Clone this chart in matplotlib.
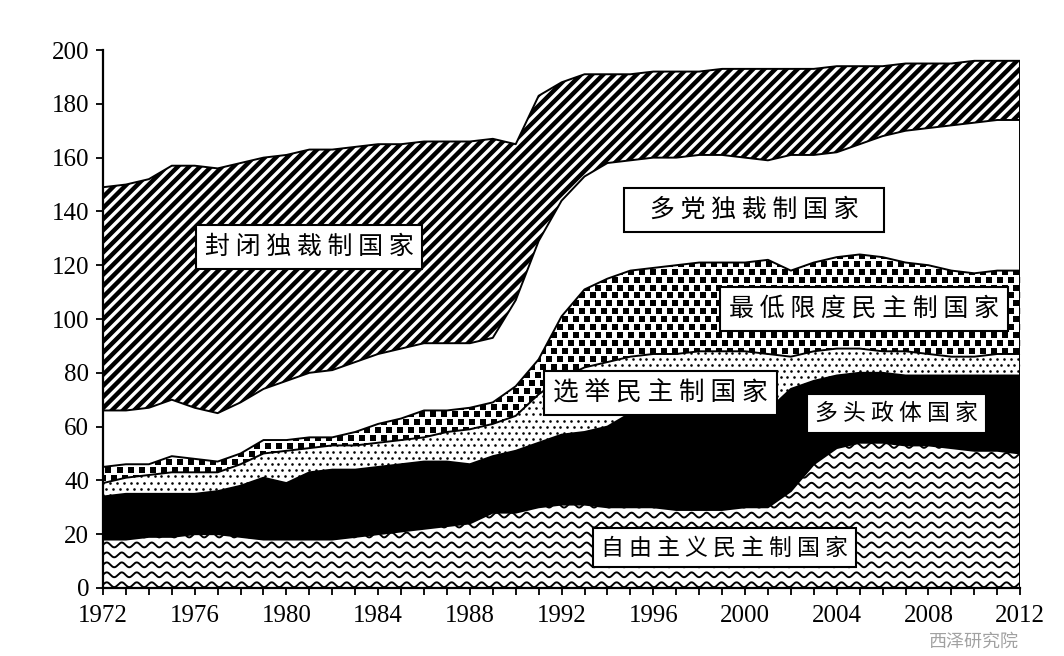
import numpy as np
import matplotlib
matplotlib.use("Agg")
import matplotlib.pyplot as plt

years = list(range(1972, 2013))

# number of countries in each regime type (bottom to top of the stack)
liberal = [18, 18, 19, 19, 20, 20, 19, 18, 18, 18,
           18, 19, 20, 21, 22, 23, 24, 28, 28, 30,
           31, 31, 30, 30, 30, 29, 29, 29, 30, 30,
           36, 46, 52, 54, 54, 53, 53, 52, 51, 51,
           50]
polyarchy = [16, 17, 16, 16, 15, 16, 19, 23, 21, 25,
             26, 25, 25, 25, 25, 24, 22, 21, 23, 24,
             26, 27, 30, 35, 35, 36, 36, 36, 35, 36,
             38, 31, 27, 26, 26, 26, 26, 27, 28, 28,
             29]
electoral = [5, 6, 7, 8, 8, 7, 8, 9, 12, 9,
             9, 9, 9, 9, 9, 11, 13, 12, 13, 18,
             21, 24, 24, 21, 22, 22, 23, 23, 23, 21,
             12, 11, 10, 9, 8, 9, 8, 7, 7, 8,
             8]
minimal = [6, 5, 4, 6, 5, 4, 4, 5, 4, 4,
           3, 5, 7, 8, 10, 8, 8, 8, 11, 13,
           23, 29, 31, 32, 32, 33, 33, 33, 33, 35,
           32, 33, 34, 35, 35, 33, 33, 32, 31, 31,
           31]
multiparty = [21, 20, 21, 21, 19, 18, 19, 19, 22, 24,
              25, 26, 26, 26, 25, 25, 24, 24, 32, 44,
              43, 42, 43, 41, 41, 40, 40, 40, 39, 37,
              43, 40, 39, 41, 45, 49, 51, 54, 56, 56,
              56]
closed = [83, 84, 85, 87, 90, 91, 89, 86, 84, 83,
          82, 80, 78, 76, 75, 75, 75, 74, 58, 54,
          44, 38, 33, 32, 32, 32, 31, 32, 33, 34,
          32, 32, 32, 29, 26, 25, 24, 23, 23, 22,
          22]

labels = ["自由主义民主制国家", "多头政体国家", "选举民主制国家",
          "最低限度民主制国家", "多党独裁制国家", "封闭独裁制国家"]
label_pos = [(1999.1, 14.9), (2006.6, 65), (1996.3, 72.5),
             (2005.2, 103.7), (2000.4, 140.5), (1981.0, 126.8)]
label_size = [16.5, 16.5, 18.5, 18, 18, 18]
label_wide = [False, False, False, False, True, False]

plt.rcParams["hatch.linewidth"] = 3.2
plt.rcParams["hatch.color"] = "black"

fig = plt.figure(figsize=(10.64, 6.56), dpi=100)
ax = fig.add_axes([0.0968, 0.1037, 0.862, 0.82])

series = [liberal, polyarchy, electoral, minimal, multiparty, closed]
fills = ax.stackplot(years, *series,
                     colors=["white", "black", "white", "white", "white", "white"],
                     linewidth=0)
fills[5].set_hatch("///")
fills[5].set_edgecolor("black")
fills[5].set_linewidth(0)

tops = np.cumsum(np.array(series, dtype=float), axis=0)


def clip_to(artist, poly):
    artist.set_clip_path(poly.get_paths()[0], poly.get_transform())


# wavy texture for liberal democracies
xx = np.linspace(1972, 2012, 2000)
for y0 in np.arange(1.2, 60, 3.7):
    ln, = ax.plot(xx, y0 + 0.9 * np.sin(2 * np.pi * (xx - 1972) / 0.654),
                  color="black", lw=1.4, zorder=1.5)
    clip_to(ln, fills[0])

# fine dots for electoral democracies
gx, gy = [], []
for i, y0 in enumerate(np.arange(30, 100, 2.3)):
    off = 0.15 if i % 2 else 0
    xs = np.arange(1972 + off, 2012.3, 0.3)
    gx += list(xs)
    gy += [y0] * len(xs)
sc = ax.scatter(gx, gy, s=3.5, marker="o", color="black", linewidths=0, zorder=1.5)
clip_to(sc, fills[2])

# coarse squares for minimal democracies
gx, gy = [], []
for i, y0 in enumerate(np.arange(35, 130, 2.95)):
    off = 0.24 if i % 2 else 0
    xs = np.arange(1972 + off, 2012.5, 0.48)
    gx += list(xs)
    gy += [y0] * len(xs)
sc = ax.scatter(gx, gy, s=16, marker="s", color="black", linewidths=0, zorder=1.5)
clip_to(sc, fills[3])

# outlines of every band
for k in range(6):
    ax.plot(years, tops[k], color="black", lw=1.4, zorder=3)
ax.plot([2012, 2012], [0, tops[5][-1]], color="black", lw=1.4, zorder=3)

for text, (x, y), fs, wide in zip(labels, label_pos, label_size, label_wide):
    s = " ".join(text)
    if wide:
        s = "   " + s + "   "
    ax.text(x, y, s, ha="center", va="center", fontsize=fs,
            family=["Noto Sans CJK SC", "DejaVu Sans"], zorder=6,
            bbox=dict(boxstyle="square,pad=0.35", fc="white", ec="black", lw=1.5))

ax.set_xlim(1972, 2012)
ax.set_ylim(0, 200)
ax.set_xticks(range(1972, 2013, 4))
ax.set_xticks(range(1972, 2013), minor=True)
ax.set_yticks(range(0, 201, 20))
for s in ["top", "right"]:
    ax.spines[s].set_visible(False)
for s in ["left", "bottom"]:
    ax.spines[s].set_linewidth(1.6)
    ax.spines[s].set_zorder(4)
ax.tick_params(which="both", direction="out", length=5, width=1.3, color="black")
ax.tick_params(axis="x", pad=7)
ax.tick_params(axis="y", pad=5)
for lab in ax.get_xticklabels() + ax.get_yticklabels():
    lab.set_family("Liberation Serif")
    lab.set_fontsize(18)

fig.text(0.915, 0.022, "西泽研究院", ha="center", va="center", fontsize=13,
         color="#8a8a8a", alpha=0.8, family=["Noto Sans CJK SC", "DejaVu Sans"])

fig.savefig("out.png", dpi=100, facecolor="white")
